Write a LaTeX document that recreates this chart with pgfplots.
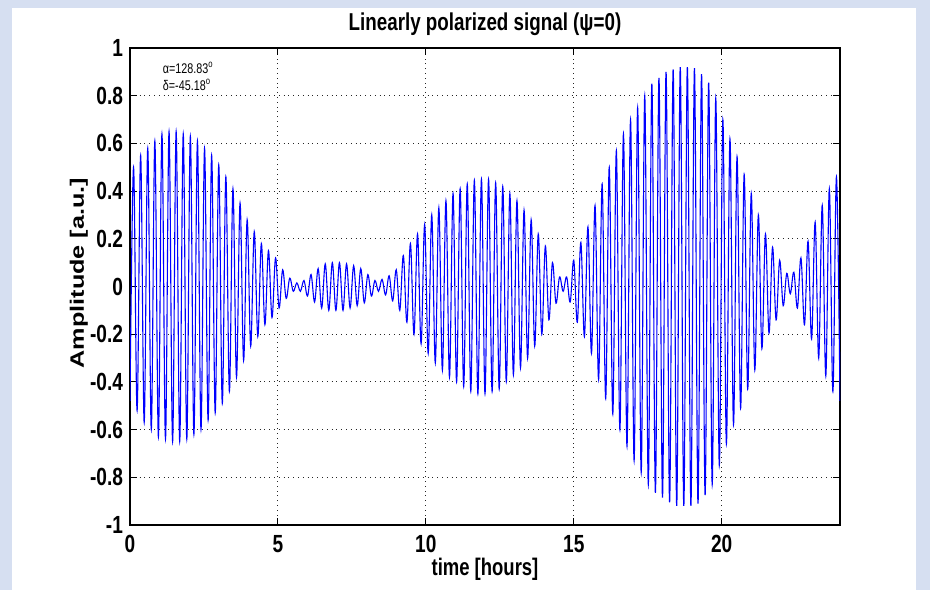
\documentclass[border=0pt]{standalone}
\usepackage{pgfplots}
\usepackage{pgfplotstable}
\pgfplotsset{compat=1.18}
\usepackage{fontspec}
% the reference image is stretched vertically, so the text looks narrow
\setmainfont{Liberation Sans}[FakeStretch=0.77]
\newfontfamily\yfont{Liberation Sans}[FakeStretch=1.3]
\definecolor{slidebg}{RGB}{214,223,241}
\definecolor{mblue}{RGB}{0,0,255}

% peaks of the carrier (hours, amplitude)
\pgfplotstableread{
t a
0.00 -0.48
0.12 0.50
0.24 -0.52
0.36 0.55
0.48 -0.57
0.60 0.58
0.72 -0.60
0.84 0.61
0.96 -0.63
1.08 0.64
1.20 -0.64
1.32 0.65
1.44 -0.65
1.56 0.65
1.68 -0.65
1.80 0.64
1.92 -0.64
2.04 0.63
2.16 -0.62
2.28 0.61
2.40 -0.60
2.52 0.58
2.64 -0.56
2.76 0.55
2.88 -0.53
3.00 0.51
3.12 -0.49
3.24 0.46
3.36 -0.44
3.48 0.41
3.60 -0.38
3.72 0.35
3.84 -0.31
3.96 0.28
4.08 -0.25
4.20 0.23
4.32 -0.21
4.44 0.18
4.56 -0.16
4.68 0.15
4.80 -0.13
4.92 0.12
5.04 -0.09
5.16 0.07
5.28 -0.05
5.40 0.035
5.52 -0.02
5.64 0.015
5.76 -0.02
5.88 0.025
6.00 -0.04
6.12 0.05
6.24 -0.065
6.36 0.075
6.48 -0.09
6.60 0.095
6.72 -0.10
6.84 0.10
6.96 -0.10
7.08 0.10
7.20 -0.10
7.32 0.095
7.44 -0.09
7.56 0.087
7.68 -0.08
7.80 0.075
7.92 -0.068
8.04 0.05
8.16 -0.04
8.28 0.025
8.40 -0.02
8.52 0.03
8.64 -0.035
8.76 0.045
8.88 -0.06
9.00 0.07
9.12 -0.10
9.24 0.13
9.36 -0.15
9.48 0.18
9.60 -0.20
9.72 0.22
9.84 -0.24
9.96 0.26
10.08 -0.28
10.20 0.30
10.32 -0.32
10.44 0.33
10.56 -0.35
10.68 0.36
10.80 -0.38
10.92 0.39
11.04 -0.40
11.16 0.41
11.28 -0.42
11.40 0.43
11.52 -0.44
11.64 0.445
11.76 -0.45
11.88 0.45
12.00 -0.45
12.12 0.45
12.24 -0.44
12.36 0.435
12.48 -0.43
12.60 0.42
12.72 -0.40
12.84 0.39
12.96 -0.37
13.08 0.36
13.20 -0.34
13.32 0.32
13.44 -0.30
13.56 0.28
13.68 -0.25
13.80 0.22
13.92 -0.20
14.04 0.17
14.16 -0.14
14.28 0.10
14.40 -0.07
14.52 0.04
14.64 -0.02
14.76 0.04
14.88 -0.065
15.00 0.11
15.12 -0.15
15.24 0.185
15.36 -0.21
15.48 0.25
15.60 -0.28
15.72 0.34
15.84 -0.39
15.96 0.43
16.08 -0.47
16.20 0.50
16.32 -0.535
16.44 0.57
16.56 -0.60
16.68 0.64
16.80 -0.67
16.92 0.70
17.04 -0.73
17.16 0.75
17.28 -0.78
17.40 0.80
17.52 -0.83
17.64 0.85
17.76 -0.865
17.88 0.875
18.00 -0.885
18.12 0.90
18.24 -0.905
18.36 0.91
18.48 -0.92
18.60 0.92
18.72 -0.92
18.84 0.92
18.96 -0.92
19.08 0.915
19.20 -0.91
19.32 0.89
19.44 -0.875
19.56 0.855
19.68 -0.83
19.80 0.79
19.92 -0.75
20.04 0.70
20.16 -0.66
20.28 0.62
20.40 -0.58
20.52 0.545
20.64 -0.51
20.76 0.47
20.88 -0.43
21.00 0.39
21.12 -0.35
21.24 0.30
21.36 -0.26
21.48 0.22
21.60 -0.195
21.72 0.165
21.84 -0.14
21.96 0.11
22.08 -0.08
22.20 0.055
22.32 -0.03
22.44 0.06
22.56 -0.09
22.68 0.12
22.80 -0.16
22.92 0.19
23.04 -0.22
23.16 0.27
23.28 -0.30
23.40 0.34
23.52 -0.375
23.64 0.41
23.76 -0.44
23.88 0.46
24.00 -0.48
}\signal

\begin{document}
\begin{tikzpicture}
\path[use as bounding box] (0,0) rectangle (465pt,295pt);
\fill[slidebg] (0,0) rectangle (465pt,295pt);
\fill[white] (6pt,0) rectangle (458pt,291pt);
\begin{axis}[
    at={(65pt,32.5pt)}, anchor=south west,
    scale only axis,
    width=355pt, height=238.5pt,
    xmin=0, xmax=24, ymin=-1, ymax=1,
    xtick={0,5,10,15,20},
    xticklabels={0,5,10,15,20},
    ytick={-1,-0.8,-0.6,-0.4,-0.2,0,0.2,0.4,0.6,0.8,1},
    yticklabels={-1,-0.8,-0.6,-0.4,-0.2,0,0.2,0.4,0.6,0.8,1},
    tick align=inside,
    major tick length=3.5pt,
    tick style={black, line width=0.5pt},
    axis line style={black, line width=0.6pt},
    grid=major,
    grid style={dotted, black!85, line width=0.5pt},
    ticklabel style={font=\fontsize{12.4}{14}\selectfont\bfseries},
    xticklabel style={anchor=base, yshift=-13.5pt},
    title={Linearly polarized signal (ψ=0)},
    title style={font=\fontsize{12.2}{14}\selectfont\bfseries,
        at={(axis description cs:0.5,1)}, anchor=base, yshift=3pt},
    xlabel={time [hours]},
    xlabel style={font=\fontsize{12}{14}\selectfont\bfseries,
        at={(axis description cs:0.5,0)}, anchor=base, yshift=-25pt},
    ylabel={Amplitude [a.u.]},
    ylabel style={font=\yfont\fontsize{9.7}{11}\selectfont\bfseries,
        at={(axis description cs:-0.0648,0.528)}, anchor=base},
]
\addplot[mblue, line width=0.55pt, smooth, tension=0.6] table[x=t, y=a] {\signal};
\node[anchor=west, font=\fontsize{7}{8}\selectfont, inner sep=0pt]
    at (axis cs:1.1,0.918) {α=128.83\textsuperscript{o}};
\node[anchor=west, font=\fontsize{7}{8}\selectfont, inner sep=0pt]
    at (axis cs:1.1,0.847) {δ=-45.18\textsuperscript{o}};
\end{axis}
\end{tikzpicture}
\end{document}
